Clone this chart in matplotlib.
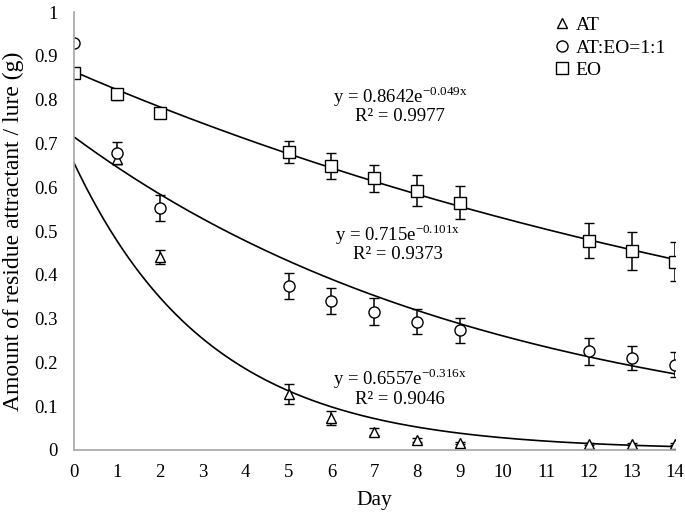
import numpy as np
import matplotlib
matplotlib.use('Agg')
import matplotlib.pyplot as plt
from matplotlib.lines import Line2D

plt.rcParams['font.family'] = ['Liberation Serif', 'DejaVu Serif']
plt.rcParams['mathtext.fontset'] = 'custom'
plt.rcParams['mathtext.rm'] = 'Liberation Serif'

# data
days_at = [1, 2, 5, 6, 7, 8, 9, 12, 13, 14]
at_mean = [0.665, 0.440, 0.128, 0.073, 0.042, 0.023, 0.016, 0.014, 0.013, 0.013]
at_err = [0.012, 0.016, 0.022, 0.015, 0.008, 0.004, 0.003, 0.002, 0.002, 0.002]

days_mix = [0, 1, 2, 5, 6, 7, 8, 9, 12, 13, 14]
mix_mean = [0.930, 0.678, 0.553, 0.375, 0.340, 0.316, 0.293, 0.273, 0.225, 0.210, 0.195]
mix_err = [0.004, 0.025, 0.030, 0.030, 0.030, 0.030, 0.028, 0.028, 0.030, 0.028, 0.028]

days_eo = [0, 1, 2, 5, 6, 7, 8, 9, 12, 13, 14]
eo_mean = [0.862, 0.812, 0.770, 0.680, 0.648, 0.620, 0.592, 0.565, 0.478, 0.455, 0.430]
eo_err = [0.004, 0.012, 0.010, 0.025, 0.030, 0.030, 0.035, 0.038, 0.040, 0.043, 0.045]

# exponential trendline coefficients (as printed on the chart)
fits = {'AT': (0.6557, -0.316), 'MIX': (0.715, -0.101), 'EO': (0.8642, -0.049)}

fig = plt.figure(figsize=(6.85, 5.17), dpi=100)
ax = fig.add_axes([0.108, 0.1296, 0.877, 0.847])

xs = np.linspace(0, 14, 200)
for key in fits:
    a, b = fits[key]
    ax.plot(xs, a * np.exp(b * xs), color='black', lw=1.2)

style = dict(color='black', mfc='white', mec='black', ls='none', elinewidth=1.1,
             capsize=3.5, capthick=1.1, mew=1.0)
ax.errorbar(days_at, at_mean, yerr=at_err, marker='^', ms=7, **style)
ax.errorbar(days_mix, mix_mean, yerr=mix_err, marker='o', ms=8, **style)
ax.errorbar(days_eo, eo_mean, yerr=eo_err, marker='s', ms=8, **style)

ax.set_xlim(0, 14)
ax.set_ylim(0, 1)
ax.set_xticks(range(0, 15))
ax.set_yticks(np.arange(0, 1.01, 0.1))
ax.set_yticklabels(['0', '0.1', '0.2', '0.3', '0.4', '0.5', '0.6', '0.7', '0.8', '0.9', '1'])
ax.tick_params(length=0, labelsize=13.5)
ax.tick_params(axis='x', pad=10)
ax.tick_params(axis='y', pad=12)
for s in ['top', 'right']:
    ax.spines[s].set_visible(False)
for s in ['left', 'bottom']:
    ax.spines[s].set_color('#a6a6a6')
    ax.spines[s].set_linewidth(1.2)

ax.set_xlabel('Day', fontsize=15.5, labelpad=7)
ax.set_ylabel('Amount of residue attractant / lure (g)', fontsize=17, labelpad=7)

eq_fs = 13.5
ax.text(7.6, 0.807, r'y = 0.8642e$^{\mathregular{-0.049x}}$', ha='center', va='center', fontsize=eq_fs)
ax.text(7.6, 0.761, 'R² = 0.9977', ha='center', va='center', fontsize=eq_fs)
ax.text(7.55, 0.492, r'y = 0.715e$^{\mathregular{-0.101x}}$', ha='center', va='center', fontsize=eq_fs)
ax.text(7.55, 0.446, 'R² = 0.9373', ha='center', va='center', fontsize=eq_fs)
ax.text(7.6, 0.162, r'y = 0.6557e$^{\mathregular{-0.316x}}$', ha='center', va='center', fontsize=eq_fs)
ax.text(7.6, 0.116, 'R² = 0.9046', ha='center', va='center', fontsize=eq_fs)

handles = [Line2D([], [], ls='none', marker='^', ms=7, mfc='white', mec='black', label='AT'),
           Line2D([], [], ls='none', marker='o', ms=8, mfc='white', mec='black', label='AT:EO=1:1'),
           Line2D([], [], ls='none', marker='s', ms=8, mfc='white', mec='black', label='EO')]
ax.legend(handles=handles, loc='upper right', bbox_to_anchor=(1.015, 1.03), frameon=False,
          fontsize=14, handlelength=0.6, handletextpad=0.4, labelspacing=0.25)

fig.savefig('out.png', dpi=100)
